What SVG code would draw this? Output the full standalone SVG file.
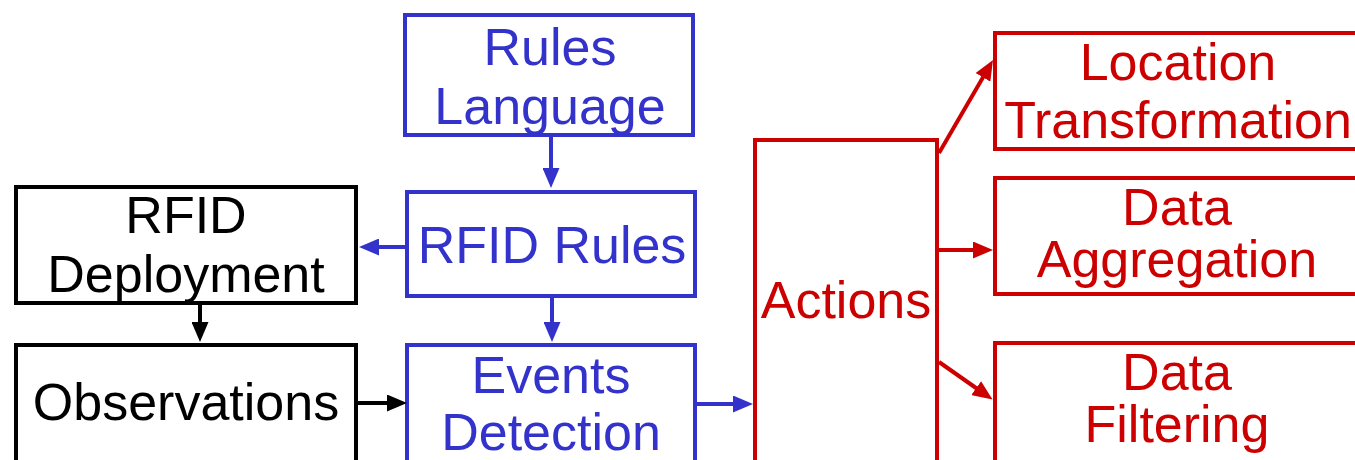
<svg xmlns="http://www.w3.org/2000/svg" width="1355" height="460" viewBox="0 0 1355 460">
  <style>
    .box { fill: #ffffff; stroke-width: 4; }
    .blue { stroke: #3333CC; }
    .red { stroke: #CC0000; }
    .black { stroke: #000000; }
    .lbl { font-family: "Liberation Sans", Arial, sans-serif; font-size: 52px; text-anchor: middle; }
    .tb { fill: #3333CC; }
    .tr { fill: #CC0000; }
    .tk { fill: #000000; }
    .edge { fill: none; stroke-width: 4; }
  </style>
  <defs>
    <marker id="ahBlue" markerUnits="userSpaceOnUse" markerWidth="20" markerHeight="17" refX="12" refY="8.5" orient="auto">
      <path d="M0,0 L20,8.5 L0,17 z" fill="#3333CC"/>
    </marker>
    <marker id="ahRed" markerUnits="userSpaceOnUse" markerWidth="20" markerHeight="17" refX="12" refY="8.5" orient="auto">
      <path d="M0,0 L20,8.5 L0,17 z" fill="#CC0000"/>
    </marker>
    <marker id="ahBlack" markerUnits="userSpaceOnUse" markerWidth="20" markerHeight="17" refX="12" refY="8.5" orient="auto">
      <path d="M0,0 L20,8.5 L0,17 z" fill="#000000"/>
    </marker>
  </defs>

  <g id="rules-language">
    <rect class="box blue" x="405" y="15" width="288" height="120"/>
    <text class="lbl tb" x="550" y="65">Rules</text>
    <text class="lbl tb" x="550" y="124">Language</text>
  </g>

  <g id="rfid-rules">
    <rect class="box blue" x="407" y="192" width="288" height="104"/>
    <text class="lbl tb" x="552" y="263">RFID Rules</text>
  </g>

  <g id="events-detection">
    <rect class="box blue" x="407" y="345" width="288" height="130"/>
    <text class="lbl tb" x="551" y="393">Events</text>
    <text class="lbl tb" x="551" y="450">Detection</text>
  </g>

  <g id="rfid-deployment">
    <rect class="box black" x="16" y="187" width="340" height="116"/>
    <text class="lbl tk" x="186" y="233">RFID</text>
    <text class="lbl tk" x="186" y="292">Deployment</text>
  </g>

  <g id="observations">
    <rect class="box black" x="16" y="345" width="340" height="130"/>
    <text class="lbl tk" x="186" y="420">Observations</text>
  </g>

  <g id="actions">
    <rect class="box red" x="755" y="140" width="182" height="340"/>
    <text class="lbl tr" x="846" y="318">Actions</text>
  </g>

  <g id="location-transformation">
    <rect class="box red" x="995" y="33" width="380" height="116"/>
    <text class="lbl tr" x="1178" y="80">Location</text>
    <text class="lbl tr" x="1178" y="138">Transformation</text>
  </g>

  <g id="data-aggregation">
    <rect class="box red" x="995" y="178" width="380" height="116"/>
    <text class="lbl tr" x="1177" y="225">Data</text>
    <text class="lbl tr" x="1177" y="277">Aggregation</text>
  </g>

  <g id="data-filtering">
    <rect class="box red" x="995" y="343" width="380" height="130"/>
    <text class="lbl tr" x="1177" y="390">Data</text>
    <text class="lbl tr" x="1177" y="442">Filtering</text>
  </g>

  <g id="connectors">
    <line class="edge blue" x1="551" y1="137" x2="551" y2="180" marker-end="url(#ahBlue)"/>
    <line class="edge blue" x1="552" y1="298" x2="552" y2="334" marker-end="url(#ahBlue)"/>
    <line class="edge blue" x1="405" y1="247" x2="367" y2="247" marker-end="url(#ahBlue)"/>
    <line class="edge black" x1="200" y1="305" x2="200" y2="334" marker-end="url(#ahBlack)"/>
    <line class="edge black" x1="358" y1="403" x2="399" y2="403" marker-end="url(#ahBlack)"/>
    <line class="edge blue" x1="697" y1="404" x2="745" y2="404" marker-end="url(#ahBlue)"/>
    <line class="edge red" x1="939" y1="153" x2="989" y2="67" marker-end="url(#ahRed)"/>
    <line class="edge red" x1="939" y1="250" x2="985" y2="250" marker-end="url(#ahRed)"/>
    <line class="edge red" x1="939" y1="362" x2="986" y2="395" marker-end="url(#ahRed)"/>
  </g>
</svg>
